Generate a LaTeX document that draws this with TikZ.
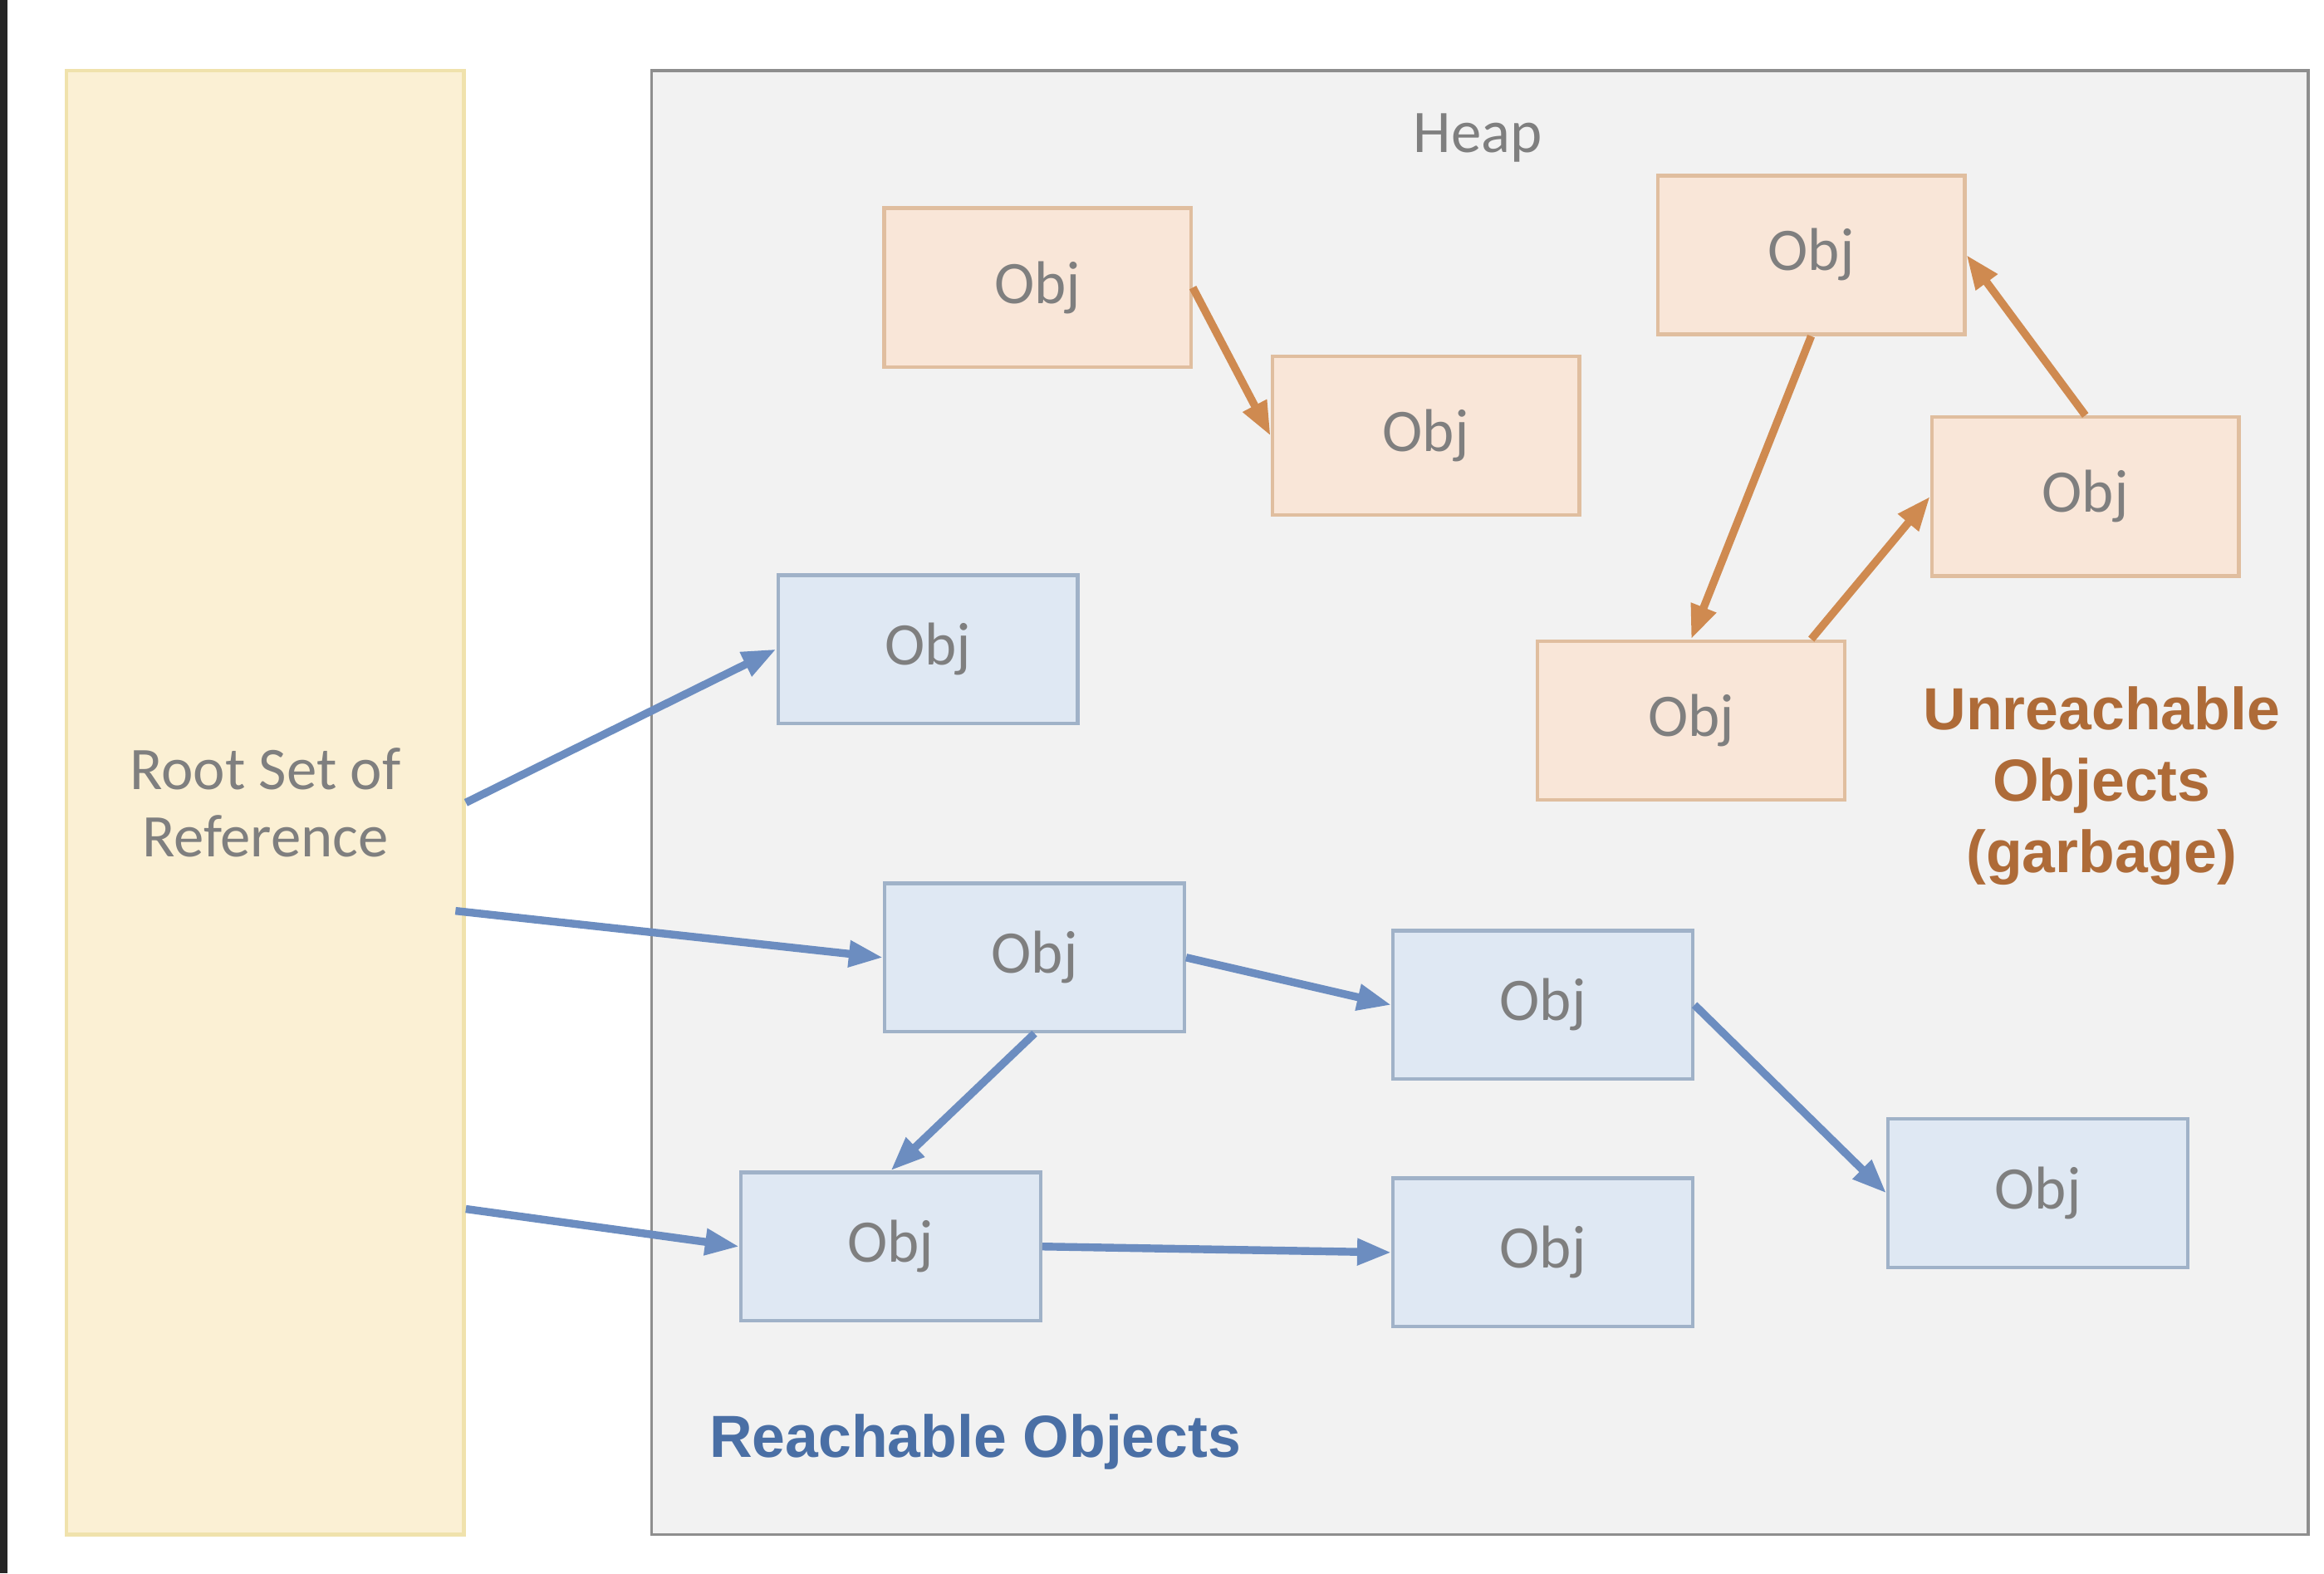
\documentclass[tikz,border=0pt]{standalone}
\usepackage{fontspec}
\setmainfont{Carlito}
\newfontfamily\labelfont{Liberation Sans}
\usetikzlibrary{arrows.meta}

\definecolor{txtgray}{HTML}{7F7F7F}
\definecolor{rootfill}{HTML}{FBF0D4}
\definecolor{rootline}{HTML}{F0E2AC}
\definecolor{heapfill}{HTML}{F2F2F2}
\definecolor{heapline}{HTML}{8E8E8E}
\definecolor{deadfill}{HTML}{F9E6D8}
\definecolor{deadline}{HTML}{E0BE9F}
\definecolor{deadarrow}{HTML}{CF8A50}
\definecolor{deadtext}{HTML}{AE6B38}
\definecolor{livefill}{HTML}{DFE8F3}
\definecolor{liveline}{HTML}{A0B2C8}
\definecolor{livearrow}{HTML}{6C8DC0}
\definecolor{livetext}{HTML}{4A6FA5}

\tikzset{
  txt/.style={font=\fontsize{11.6}{13}\selectfont, text=txtgray},
  obj/.style={txt, draw, line width=0.7pt, inner sep=0pt},
  dead/.style={obj, fill=deadfill, draw=deadline, minimum width=2.07cm, minimum height=1.07cm},
  live/.style={obj, fill=livefill, draw=liveline, minimum width=2.02cm, minimum height=1.0cm},
  ref/.style={-{Triangle[length=2.3mm,width=1.7mm]}, line width=1.5pt},
  biglabel/.style={font=\labelfont\bfseries\fontsize{11.4}{13.7}\selectfont, align=center},
}

\begin{document}
\begin{tikzpicture}[x=0.01cm, y=-0.01cm]
\useasboundingbox (0,0) rectangle (1568,1061.4);
\fill[black!85] (0,0) rectangle (5,1061.4);

\node[txt, draw=rootline, fill=rootfill, line width=0.7pt, minimum width=2.68cm, minimum height=9.87cm, align=center]
  (root) at (179,541.5) {Root Set of\\Reference};
\node[draw=heapline, fill=heapfill, line width=0.6pt, minimum width=11.17cm, minimum height=9.87cm]
  (heap) at (998.5,541.5) {};
\node[txt] (heaplbl) at (997,93) {Heap};

\node[dead] (d1) at (700,194)  {Obj};
\node[dead] (d2) at (962,294)  {Obj};
\node[dead] (d3) at (1222,172) {Obj};
\node[dead] (d4) at (1407,335) {Obj};
\node[dead] (d5) at (1141,486) {Obj};

\node[live] (a1) at (626,438)  {Obj};
\node[live] (a2) at (698,646)  {Obj};
\node[live] (a3) at (1041,678) {Obj};
\node[live] (a4) at (601,841)  {Obj};
\node[live] (a5) at (1041,845) {Obj};
\node[live] (a6) at (1375,805) {Obj};

\node[biglabel, text=deadtext] (deadlbl) at (1418,530) {Unreachable\\Objects\\(garbage)};
\node[biglabel, text=livetext] (livelbl) at (658,973) {Reachable Objects};

\draw[ref, deadarrow] (d1.east) -- (d2.west);
\draw[ref, deadarrow] (d3.south) -- (d5.north);
\draw[ref, deadarrow] ([xshift=0.81cm]d5.north) -- (d4.west);
\draw[ref, deadarrow] (d4.north) -- (d3.east);

\draw[ref, livearrow] (root.east) -- (a1.west);
\draw[ref, livearrow] ([xshift=-0.07cm,yshift=-0.73cm]root.east) -- (a2.west);
\draw[ref, livearrow] ([yshift=-2.74cm]root.east) -- (a4.west);
\draw[ref, livearrow] (a2.east) -- (a3.west);
\draw[ref, livearrow] (a2.south) -- (a4.north);
\draw[ref, livearrow] (a3.east) -- (a6.west);
\draw[ref, livearrow] (a4.east) -- (a5.west);

\end{tikzpicture}
\end{document}
